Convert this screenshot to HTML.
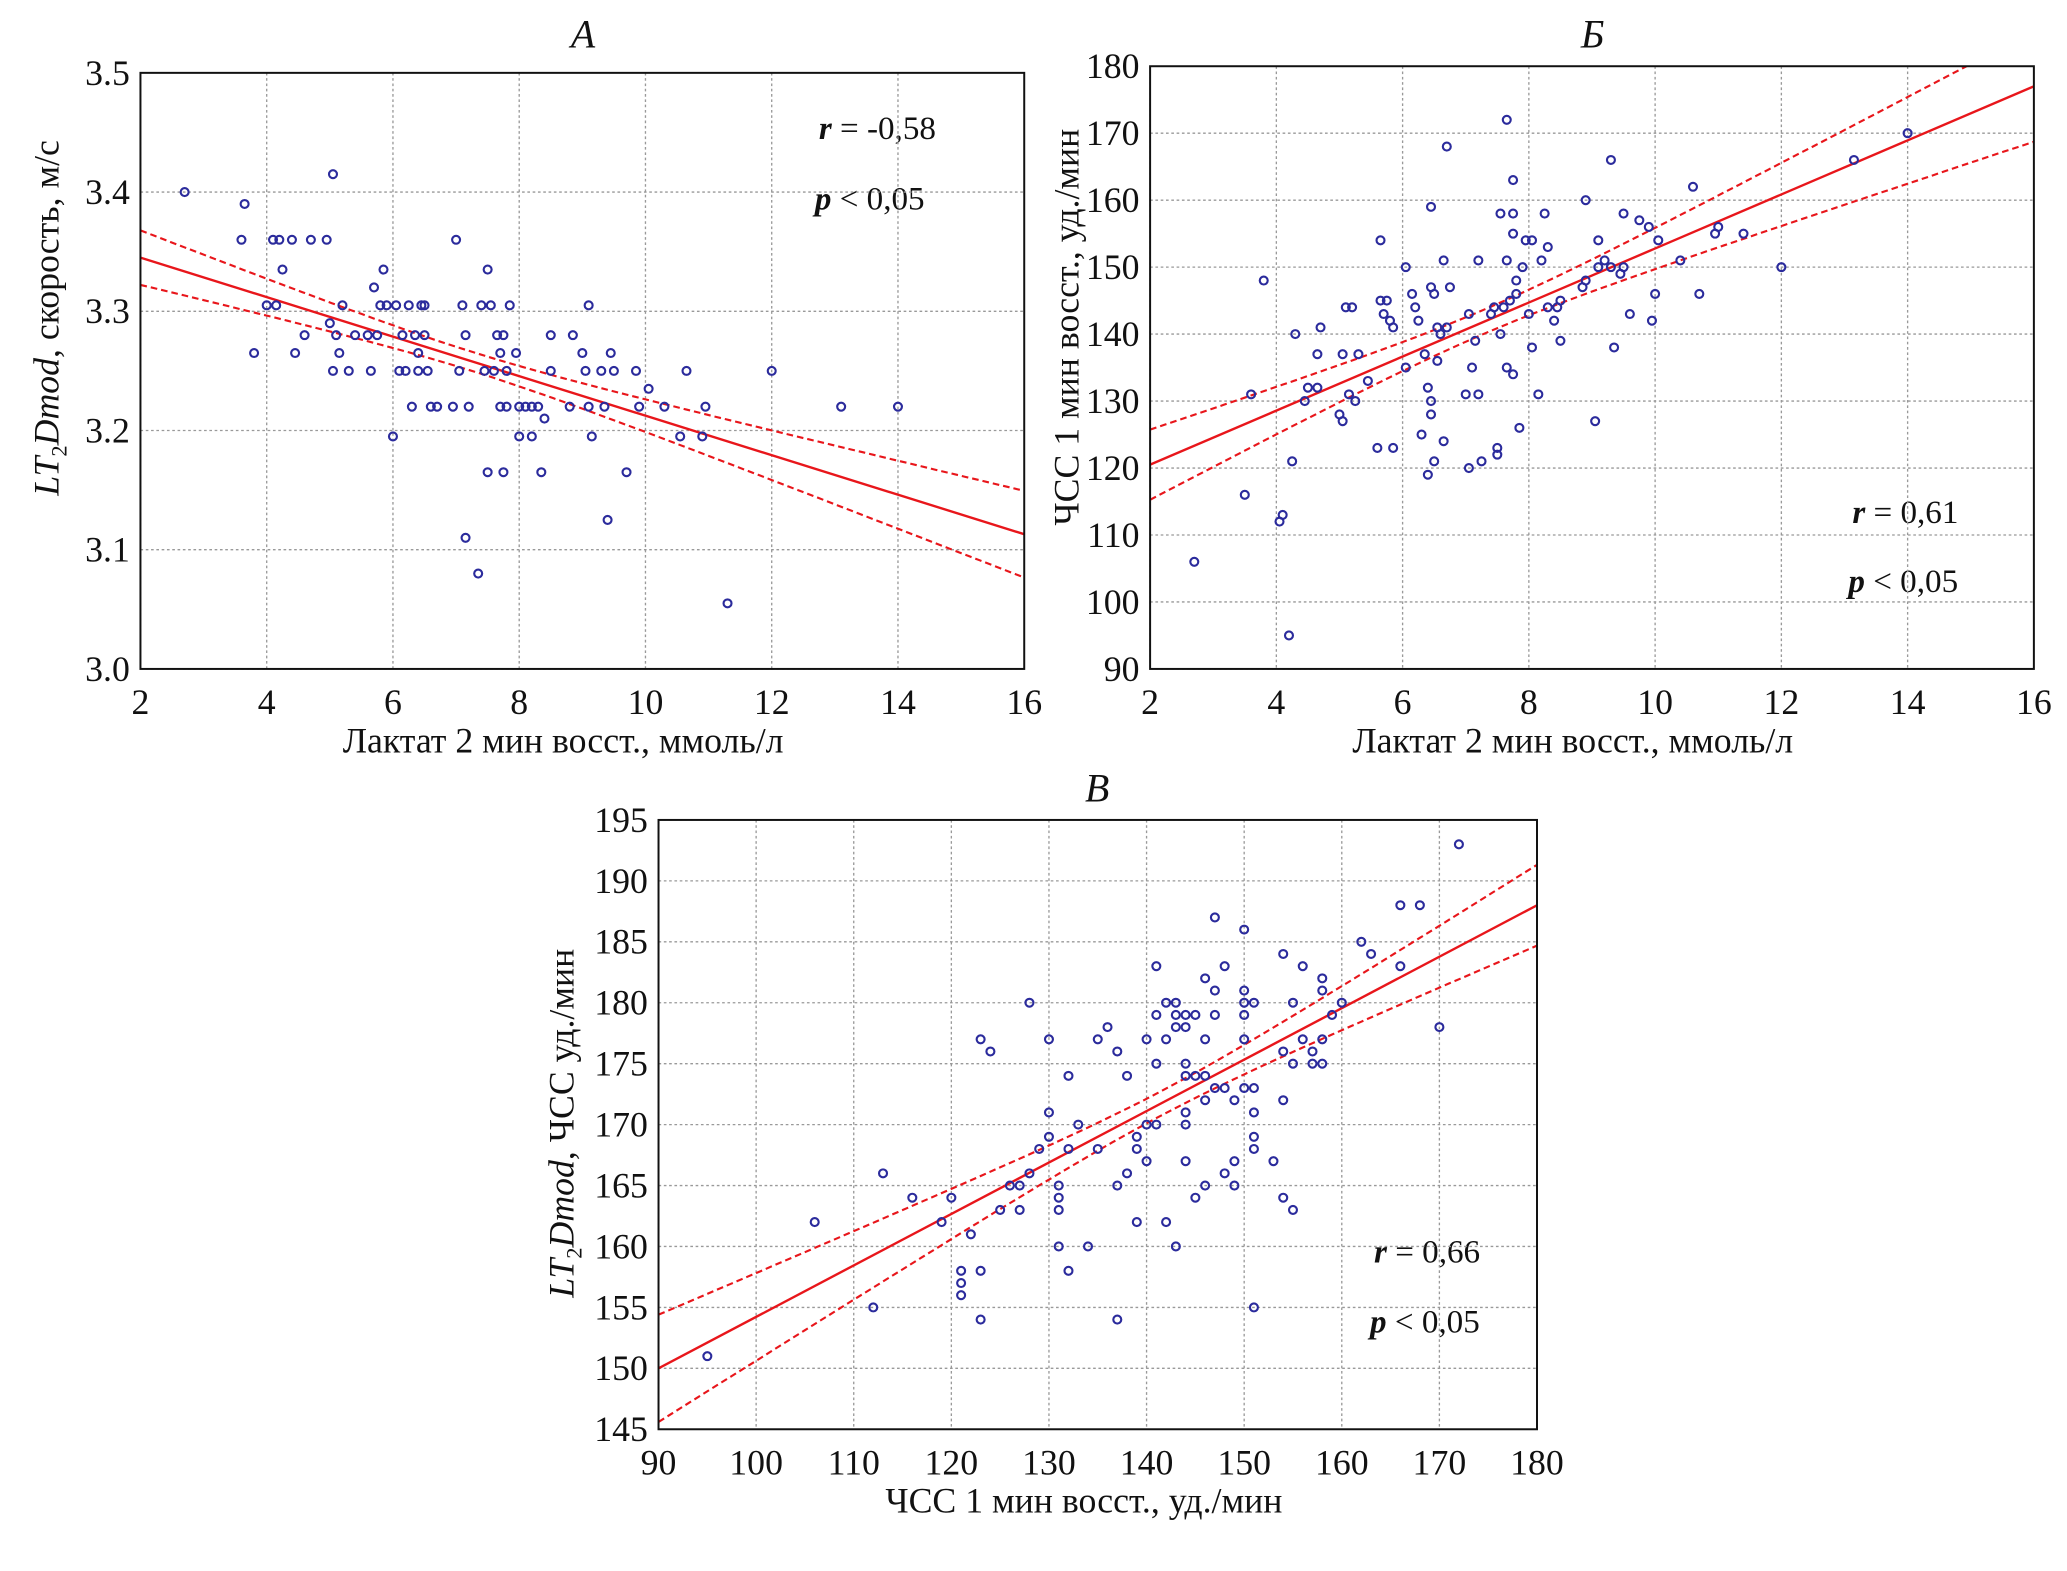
<!DOCTYPE html>
<html><head><meta charset="utf-8">
<style>
html,body{margin:0;padding:0;background:#fff;}
svg{display:block;font-family:"Liberation Serif",serif;}
.tick{font-size:27px;fill:#111;}
.atitle{font-size:27px;fill:#111;}
.ptitle{font-size:30px;font-style:italic;fill:#111;}
.stat{font-size:25px;fill:#111;}
</style></head><body>
<svg id="chart" width="2067" height="1571" viewBox="0 0 1560 1186" preserveAspectRatio="none" xmlns="http://www.w3.org/2000/svg">
<rect width="1560" height="1186" fill="#fff"/>
<text class="ptitle" x="440" y="36" text-anchor="middle">А</text>
<text class="ptitle" x="1202" y="36" text-anchor="middle">Б</text>
<text class="ptitle" x="828" y="605" text-anchor="middle">В</text>
<text class="atitle" x="425" y="568" text-anchor="middle">Лактат 2 мин восст., ммоль/л</text>
<text class="atitle" x="1187" y="568" text-anchor="middle">Лактат 2 мин восст., ммоль/л</text>
<text class="atitle" x="818" y="1142" text-anchor="middle">ЧСС 1 мин восст., уд./мин</text>
<text class="atitle" transform="translate(44,240) rotate(-90)" text-anchor="middle"><tspan font-style="italic">LT</tspan><tspan font-size="17" dy="6">2</tspan><tspan font-style="italic" dy="-6">Dmod</tspan>, скорость, м/с</text>
<text class="atitle" transform="translate(814,247) rotate(-90)" text-anchor="middle">ЧСС 1 мин восст., уд./мин</text>
<text class="atitle" transform="translate(433,848) rotate(-90)" text-anchor="middle"><tspan font-style="italic">LT</tspan><tspan font-size="17" dy="6">2</tspan><tspan font-style="italic" dy="-6">Dmod</tspan>, ЧСС уд./мин</text>
<text class="stat" x="618" y="105"><tspan font-style="italic" font-weight="bold">r</tspan> = -0,58</text>
<text class="stat" x="615" y="158"><tspan font-style="italic" font-weight="bold">p</tspan> &lt; 0,05</text>
<text class="stat" x="1398" y="395"><tspan font-style="italic" font-weight="bold">r</tspan> = 0,61</text>
<text class="stat" x="1395" y="447"><tspan font-style="italic" font-weight="bold">p</tspan> &lt; 0,05</text>
<text class="stat" x="1037" y="953"><tspan font-style="italic" font-weight="bold">r</tspan> = 0,66</text>
<text class="stat" x="1034" y="1006"><tspan font-style="italic" font-weight="bold">p</tspan> &lt; 0,05</text>
</svg>
<script>
const aX=[2.7,3.6,3.65,3.8,4.0,4.1,4.15,4.2,4.25,4.4,4.45,4.6,4.7,4.95,5.0,5.05,5.05,5.1,5.15,5.2,5.3,5.4,5.6,5.65,5.7,5.75,5.8,5.85,5.9,6.0,6.05,6.1,6.15,6.2,6.25,6.3,6.35,6.4,6.4,6.45,6.5,6.5,6.55,6.6,6.7,6.95,7.0,7.05,7.1,7.15,7.2,7.15,7.35,7.4,7.45,7.5,7.5,7.55,7.6,7.65,7.7,7.7,7.75,7.75,7.8,7.8,7.85,7.95,8.0,8.0,8.1,8.2,8.2,8.3,8.35,8.4,8.5,8.5,8.8,8.85,9.0,9.05,9.1,9.1,9.15,9.3,9.35,9.4,9.45,9.5,9.7,9.85,9.9,10.05,10.3,10.55,10.65,10.9,10.95,11.3,12.0,13.1,14.0];
const aY=[3.40,3.36,3.39,3.265,3.305,3.36,3.305,3.36,3.335,3.36,3.265,3.28,3.36,3.36,3.29,3.25,3.415,3.28,3.265,3.305,3.25,3.28,3.28,3.25,3.32,3.28,3.305,3.335,3.305,3.195,3.305,3.25,3.28,3.25,3.305,3.22,3.28,3.25,3.265,3.305,3.305,3.28,3.25,3.22,3.22,3.22,3.36,3.25,3.305,3.28,3.22,3.11,3.08,3.305,3.25,3.335,3.165,3.305,3.25,3.28,3.265,3.22,3.165,3.28,3.25,3.22,3.305,3.265,3.22,3.195,3.22,3.195,3.22,3.22,3.165,3.21,3.25,3.28,3.22,3.28,3.265,3.25,3.22,3.305,3.195,3.25,3.22,3.125,3.265,3.25,3.165,3.25,3.22,3.235,3.22,3.195,3.25,3.195,3.22,3.055,3.25,3.22,3.22];
const bX=[2.7,3.5,3.6,3.8,4.05,4.1,4.2,4.25,4.3,4.45,4.5,4.65,4.65,4.7,5.0,5.05,5.05,5.1,5.15,5.2,5.25,5.3,5.45,5.6,5.65,5.65,5.7,5.75,5.8,5.85,5.85,6.05,6.05,6.15,6.2,6.25,6.3,6.35,6.4,6.4,6.45,6.45,6.45,6.45,6.5,6.5,6.55,6.55,6.6,6.65,6.65,6.7,6.7,6.75,7.0,7.05,7.05,7.1,7.15,7.2,7.2,7.25,7.4,7.45,7.5,7.5,7.55,7.55,7.6,7.65,7.65,7.65,7.7,7.75,7.75,7.75,7.75,7.8,7.8,7.85,7.9,7.95,8.0,8.05,8.05,8.15,8.2,8.25,8.3,8.3,8.4,8.45,8.5,8.5,8.85,8.9,8.9,9.05,9.1,9.1,9.2,9.3,9.3,9.35,9.45,9.5,9.5,9.6,9.75,9.9,9.95,10.0,10.05,10.4,10.6,10.7,10.95,11.0,11.4,12.0,13.15,14.0];
const bY=[106,116,131,148,112,113,95,121,140,130,132,132,137,141,128,127,137,144,131,144,130,137,133,123,154,145,143,145,142,141,123,150,135,146,144,142,125,137,119,132,130,128,147,159,121,146,141,136,140,124,151,141,168,147,131,143,120,135,139,151,131,121,143,144,122,123,158,140,144,172,151,135,145,155,158,163,134,148,146,126,150,154,143,154,138,131,151,158,144,153,142,144,145,139,147,160,148,127,150,154,151,166,150,138,149,150,158,143,157,156,142,146,154,151,162,146,155,156,155,150,166,170];
const cX=[95,106,112,113,116,119,120,121,121,121,122,123,123,123,124,125,126,127,127,128,128,129,130,130,130,131,131,131,131,132,132,132,133,134,135,135,136,137,137,137,138,138,139,139,139,140,140,140,141,141,141,141,142,142,142,143,143,143,143,144,144,144,144,144,144,144,145,145,145,146,146,146,146,146,147,147,147,147,148,148,148,149,149,149,150,150,150,150,150,150,151,151,151,151,151,151,153,154,154,154,154,155,155,155,156,156,157,157,158,158,158,158,159,160,162,163,166,166,168,170,172];
const cY=[151,162,155,166,164,162,164,158,157,156,161,177,154,158,176,163,165,163,165,180,166,168,177,171,169,165,164,163,160,174,168,158,170,160,168,177,178,165,176,154,166,174,169,168,162,170,177,167,183,179,175,170,162,180,177,180,179,178,160,179,178,175,174,171,170,167,179,174,164,182,177,174,172,165,187,181,179,173,183,173,166,172,167,165,186,181,180,179,177,173,180,173,171,169,168,155,167,184,176,172,164,180,175,163,183,177,176,175,182,181,177,175,179,180,185,184,188,183,188,178,193];
const aXTicks=[2,4,6,8,10,12,14,16], aYTicks=[3.0,3.1,3.2,3.3,3.4,3.5], aYLabels=["3.0","3.1","3.2","3.3","3.4","3.5"];
const bXTicks=[2,4,6,8,10,12,14,16], bYTicks=[90,100,110,120,130,140,150,160,170,180];
const cXTicks=[90,100,110,120,130,140,150,160,170,180], cYTicks=[145,150,155,160,165,170,175,180,185,190,195];
const aFit=[3.345,3.113], bFit=[120.5,177], cFit=[150,188];

const NS="http://www.w3.org/2000/svg";
const svg=document.getElementById('chart');
function mk(t,a,p){const e=document.createElementNS(NS,t);for(const k in a)e.setAttribute(k,a[k]);(p||svg).appendChild(e);return e;}
function panel(id,box,xd,yd,xs,ys,xt,yt,ylab,fit,band){
  const g=mk('g',{});
  
  
  const sx=v=>box[0]+(v-xd[0])/(xd[1]-xd[0])*(box[2]-box[0]);
  const sy=v=>box[3]-(v-yd[0])/(yd[1]-yd[0])*(box[3]-box[1]);
  xt.forEach(v=>{
    mk('line',{x1:sx(v),x2:sx(v),y1:box[1],y2:box[3],stroke:'#999','stroke-width':1,'stroke-dasharray':'2,2'},g);
    const t=mk('text',{x:sx(v),y:box[3]+34,'text-anchor':'middle',class:'tick'},g);t.textContent=v;
    
    
  });
  yt.forEach((v,i)=>{
    mk('line',{x1:box[0],x2:box[2],y1:sy(v),y2:sy(v),stroke:'#999','stroke-width':1,'stroke-dasharray':'2,2'},g);
    const t=mk('text',{x:box[0]-8,y:sy(v)+9,'text-anchor':'end',class:'tick'},g);t.textContent=ylab?ylab[i]:v;
    
    
  });
  const cp=mk('clipPath',{id:id+'-clip'},g);mk('rect',{x:box[0],y:box[1],width:box[2]-box[0],height:box[3]-box[1]},cp);
  const lg=mk('g',{'clip-path':'url(#'+id+'-clip)'},g);
  const f=x=>fit[0]+(x-xd[0])/(xd[1]-xd[0])*(fit[1]-fit[0]);
  const xm=xs.reduce((a,b)=>a+b,0)/xs.length;
  const w=x=>Math.sqrt(band[0]*band[0]+band[1]*(x-xm)*(x-xm));
  const line=mk('line',{x1:sx(xd[0]),y1:sy(f(xd[0])),x2:sx(xd[1]),y2:sy(f(xd[1])),stroke:'#e8161b','stroke-width':1.8},lg);
  
  
  [1,-1].forEach(s=>{let d='';for(let i=0;i<=60;i++){const x=xd[0]+(xd[1]-xd[0])*i/60;d+=(i?'L':'M')+sx(x).toFixed(1)+','+sy(f(x)+s*w(x)).toFixed(1);}
    const p=mk('path',{d:d,fill:'none',stroke:'#e8161b','stroke-width':1.6,'stroke-dasharray':'5,3'},lg);
    
    });
  xs.forEach((x,i)=>{const c=mk('circle',{cx:sx(x),cy:sy(ys[i]),r:3,fill:'none',stroke:'#2b2b9c','stroke-width':1.6},g);
    
    });
  const r=mk('rect',{x:box[0],y:box[1],width:box[2]-box[0],height:box[3]-box[1],fill:'none',stroke:'#111','stroke-width':1.5},g);
  
  
}
panel('panel-a',[106,55,773,505],[2,16],[3.0,3.5],aX,aY,aXTicks,aYTicks,aYLabels,aFit,[0.008,1.65e-5]);
panel('panel-b',[868,50,1535,505],[2,16],[90,180],bX,bY,bXTicks,bYTicks,null,bFit,[1.8,0.86]);
panel('panel-c',[497,619,1160,1079],[90,180],[145,195],cX,cY,cXTicks,cYTicks,null,cFit,[1.0,0.00685]);
</script>
</body></html>
